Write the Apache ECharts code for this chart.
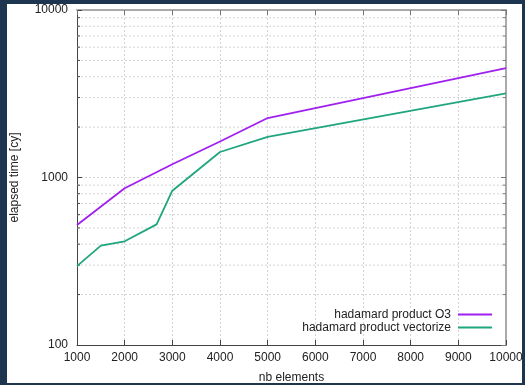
<!DOCTYPE html>
<html>
<head>
<meta charset="utf-8">
<script src="https://cdn.jsdelivr.net/npm/echarts@6/dist/echarts.min.js"></script>
<style>
  html, body { margin: 0; padding: 0; background: #1e3550; width: 525px; height: 385px; overflow: hidden; }
  #chart { position: absolute; left: 7px; top: 4px; width: 515px; height: 379px; background: #ffffff; }
</style>
</head>
<body>
<div id="chart"></div>
<script>
// Timing measurements (cycles) versus number of elements
const o3X = [1000, 2000, 3000, 4000, 5000, 10000];
const o3Y = [520, 862, 1200, 1640, 2265, 4500];
const vecX = [1000, 1500, 2000, 2670, 3000, 4000, 5000, 10000];
const vecY = [296, 392, 416, 525, 834, 1420, 1746, 3180];
const seriesNames = ['hadamard product O3', 'hadamard product vectorize'];
const seriesColors = ['#a020f0', '#1fa67e'];
// Minor log-scale gridlines
const minorY = [200, 300, 400, 500, 600, 700, 800, 900, 2000, 3000, 4000, 5000, 6000, 7000, 8000, 9000];

const chart = echarts.init(document.getElementById('chart'));
const font = 'Liberation Sans, Arial, sans-serif';

function pairs(xs, ys) { return xs.map((x, i) => [x, ys[i]]); }
const plain = v => String(Math.round(v));

const option = {
  animation: false,
  grid: { left: 70, top: 6, right: 16, bottom: 38, containLabel: false, outerBoundsMode: 'none' },
  legend: {
    orient: 'vertical',
    right: 30,
    top: 304,
    padding: 0,
    align: 'right',
    itemWidth: 34,
    itemHeight: 2,
    itemGap: 0,
    icon: 'rect',
    textStyle: { fontFamily: font, fontSize: 12, color: '#222', lineHeight: 13, padding: [0, 2, 0, 0] },
    data: seriesNames
  },
  xAxis: [{
    type: 'value', min: 1000, max: 10000, interval: 1000,
    name: 'nb elements', nameLocation: 'middle', nameGap: 27,
    nameTextStyle: { fontFamily: font, fontSize: 12, color: '#222' },
    axisLine: { show: true, lineStyle: { color: '#444', width: 1 } },
    axisTick: { show: true, inside: true, length: 5, lineStyle: { color: '#444' } },
    axisLabel: { margin: 7, fontFamily: font, fontSize: 12, color: '#222', formatter: plain },
    splitLine: { show: true, lineStyle: { color: '#d4d4d4', type: [2, 2], width: 1 } }
  }, {
    type: 'value', min: 1000, max: 10000, interval: 1000, position: 'top',
    axisLine: { show: true, lineStyle: { color: '#aaa', width: 2 } },
    axisTick: { show: true, inside: true, length: 5, lineStyle: { color: '#777' } },
    axisLabel: { show: false }, splitLine: { show: false }
  }],
  yAxis: [{
    type: 'log', logBase: 10, min: 100, max: 10000,
    name: 'elapsed time [cy]', nameLocation: 'middle', nameGap: 56, nameRotate: 90,
    nameTextStyle: { fontFamily: font, fontSize: 12, color: '#222' },
    axisLine: { show: true, lineStyle: { color: '#444', width: 1 } },
    axisTick: { show: true, inside: true, length: 5, lineStyle: { color: '#444' } },
    axisLabel: { margin: 9, fontFamily: font, fontSize: 12, color: '#222', formatter: plain },
    splitLine: { show: true, lineStyle: { color: '#d4d4d4', type: [2, 2], width: 1 } }
  }, {
    type: 'log', logBase: 10, min: 100, max: 10000, position: 'right',
    axisLine: { show: true, lineStyle: { color: '#aaa', width: 2 } },
    axisTick: { show: true, inside: true, length: 5, lineStyle: { color: '#777' } },
    axisLabel: { show: false }, splitLine: { show: false }
  }],
  series: [{
    // minor gridlines and minor ticks for the log axis
    type: 'custom',
    silent: true,
    z: 1,
    data: minorY.map(v => [1000, v]),
    renderItem: function (params, api) {
      const v = api.value(1);
      const a = api.coord([1000, v]);
      const b = api.coord([10000, v]);
      return {
        type: 'group',
        children: [{
          type: 'line',
          shape: { x1: a[0], y1: a[1], x2: b[0], y2: b[1] },
          style: { stroke: '#d4d4d4', lineWidth: 1, lineDash: [2, 2] }
        }, {
          type: 'line',
          shape: { x1: a[0], y1: a[1], x2: a[0] + 3, y2: a[1] },
          style: { stroke: '#444', lineWidth: 1 }
        }, {
          type: 'line',
          shape: { x1: b[0] - 3, y1: b[1], x2: b[0], y2: b[1] },
          style: { stroke: '#777', lineWidth: 1 }
        }]
      };
    }
  }, {
    name: seriesNames[0], type: 'line', data: pairs(o3X, o3Y),
    showSymbol: false, symbol: 'none', z: 3,
    itemStyle: { color: seriesColors[0] },
    lineStyle: { color: seriesColors[0], width: 1.8 }
  }, {
    name: seriesNames[1], type: 'line', data: pairs(vecX, vecY),
    showSymbol: false, symbol: 'none', z: 3,
    itemStyle: { color: seriesColors[1] },
    lineStyle: { color: seriesColors[1], width: 1.8 }
  }]
};
chart.setOption(option);
</script>
</body>
</html>
